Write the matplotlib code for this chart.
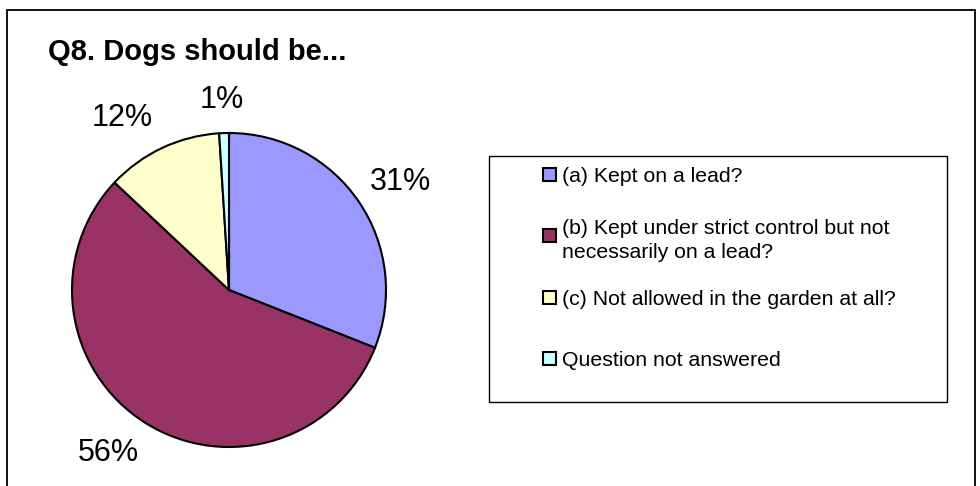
import matplotlib.pyplot as plt
from matplotlib.patches import Rectangle

plt.rcParams['font.family'] = ['Liberation Sans', 'DejaVu Sans']

# data
categories = [
    "(a) Kept on a lead?",
    "(b) Kept under strict control but not\nnecessarily on a lead?",
    "(c) Not allowed in the garden at all?",
    "Question not answered",
]
shares = [31, 56, 12, 1]
pct_labels = ["31%", "56%", "12%", "1%"]
colors = ["#9999FF", "#993366", "#FFFFCC", "#CCFFFF"]

# small nudges of the percent labels (Excel doesn't place them purely radially)
label_nudge = [(0.015, -0.04), (-0.07, 0.06), (-0.13, -0.08), (-0.005, -0.09)]

W, H = 980, 486
fig = plt.figure(figsize=(W / 100, H / 100), dpi=100)

# outer chart frame (bottom edge runs off the picture)
fig.patches.append(Rectangle((7 / W, -0.1), 968 / W, 1.1 - 10 / H,
                             transform=fig.transFigure, fill=False,
                             edgecolor="black", linewidth=1.3))

fig.text(48 / W, 1 - 52 / H, "Q8. Dogs should be...", fontsize=21,
         fontweight="bold", va="center", ha="left")

# pie
cx, cy, R = 229, 290, 157
ax = fig.add_axes([(cx - R) / W, (H - cy - R) / H, 2 * R / W, 2 * R / H])
wedges, texts = ax.pie(shares, labels=pct_labels, colors=colors,
                       startangle=90, counterclock=False, labeldistance=1.3,
                       wedgeprops=dict(edgecolor="black", linewidth=1.5),
                       textprops=dict(fontsize=22))
for t, (dx, dy) in zip(texts, label_nudge):
    x, y = t.get_position()
    t.set_position((x + dx, y + dy))
    t.set_ha("center")
    t.set_va("center")
ax.set_xlim(-1, 1)
ax.set_ylim(-1, 1)
ax.set_aspect("equal")

# legend (drawn by hand so the key sits on the first line like Excel)
fig.patches.append(Rectangle((489 / W, 1 - 402 / H), 458 / W, 246 / H,
                             transform=fig.transFigure, fill=False,
                             edgecolor="black", linewidth=1.0))
row0, row_gap, key = 175, 61, 13
for i, (lab, col) in enumerate(zip(categories, colors)):
    yc = row0 + i * row_gap
    fig.patches.append(Rectangle((543 / W, 1 - (yc + key / 2) / H), key / W, key / H,
                                 transform=fig.transFigure, facecolor=col,
                                 edgecolor="black", linewidth=1.5))
    fig.text(562 / W, 1 - yc / H, lab, fontsize=15.3, ha="left",
             va="center_baseline", linespacing=1.34)

fig.savefig("out.png", dpi=100)
